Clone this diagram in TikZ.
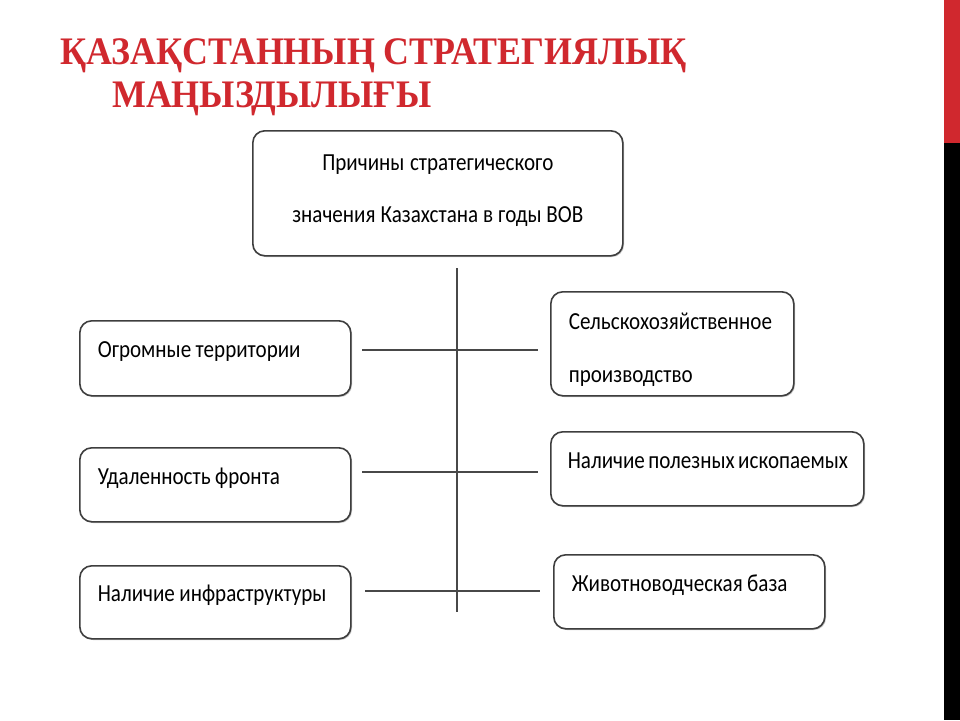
\documentclass[tikz,border=0pt]{standalone}
\usepackage{fontspec}
\setmainfont{Carlito}[FakeStretch=0.86]
\newfontfamily\titlefont{Liberation Serif}[FakeStretch=0.92]
\usetikzlibrary{shadows}

\definecolor{titlered}{RGB}{208,40,46}
\definecolor{boxline}{RGB}{62,62,62}
\definecolor{linkgray}{RGB}{72,72,72}

\tikzset{
  reason/.style={draw=boxline, line width=1.6pt, rounded corners=12pt, fill=white,
    drop shadow={shadow xshift=1.2pt, shadow yshift=-1.2pt, fill=black!40, opacity=.6},
    anchor=north west, align=left, inner xsep=18pt,
    text height=16pt, text depth=17pt,
    font=\fontsize{24.5}{29}\selectfont,
    execute at begin node={\spaceskip=4.5pt plus 1pt minus 1pt}},
  heading/.style={anchor=base west, inner sep=0pt, text=titlered,
    font=\titlefont\bfseries\fontsize{39}{43}\selectfont},
  link/.style={draw=linkgray, line width=1.8pt}
}

\begin{document}
\begin{tikzpicture}[x=1pt, y=-1pt]
  \useasboundingbox (0,0) rectangle (960,720);
  \fill[white] (0,0) rectangle (960,720);

  % side bar
  \fill[titlered] (944,0) rectangle (960,143);
  \fill[black] (944,143) rectangle (960,720);

  % heading
  \node[heading] (title1) at (60,64) {ҚАЗАҚСТАННЫҢ СТРАТЕГИЯЛЫҚ};
  \node[heading] (title2) at (112,107) {МАҢЫЗДЫЛЫҒЫ};

  % main box
  \node[reason, align=center, text width=334pt, minimum height=125pt,
        text height=16pt, text depth=61pt] (cause) at (252,130)
    {Причины стратегического\\[23pt]значения Казахстана в годы ВОВ};

  % left column
  \node[reason, text width=235pt, minimum height=75pt] (terr) at (79,320) {Огромные территории};
  \node[reason, text width=235pt, minimum height=74pt] (front) at (79,447) {Удаленность фронта};
  \node[reason, text width=235pt, minimum height=73pt] (infra) at (79,565) {Наличие инфраструктуры};

  % right column
  \node[reason, text width=207pt, minimum height=104pt,
        text height=16pt, text depth=44pt] (agri) at (550,291)
    {Сельскохозяйственное\\[24pt]производство};
  \node[reason, inner xsep=17pt, text width=279pt, minimum height=74pt] (mine) at (550,431)
    {Наличие~полезных~ископаемых};
  \node[reason, text width=235pt, minimum height=74pt] (stock) at (553,554) {Животноводческая база};

  % connectors
  \coordinate (spinetop) at (457,268);
  \coordinate (spinebot) at (457,612);
  \draw[link] (spinetop) -- (spinebot);

  \coordinate (l1) at (362,350); \coordinate (r1) at (538,350);
  \coordinate (l2) at (362,472); \coordinate (r2) at (538,472);
  \coordinate (l3) at (365,591); \coordinate (r3) at (540,591);
  \draw[link] (l1) -- (r1);
  \draw[link] (l2) -- (r2);
  \draw[link] (l3) -- (r3);
\end{tikzpicture}
\end{document}
